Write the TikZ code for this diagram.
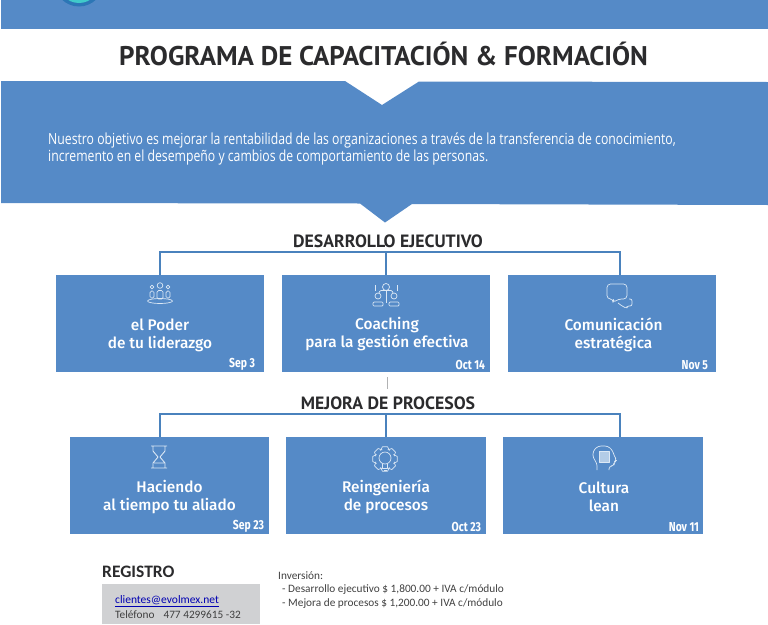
\documentclass[tikz,border=0pt]{standalone}
\usepackage{fontspec}
\setmainfont{Carlito}
\newfontfamily\headfont{PT Sans}
\newfontfamily\parafont[FakeStretch=0.80]{Open Sans}
\newfontfamily\boxfont{Fira Sans Medium}
\newfontfamily\datefont[FakeStretch=0.80]{Fira Sans}
\definecolor{evblue}{HTML}{558AC7}
\definecolor{evline}{HTML}{4A82BD}
\definecolor{evdark}{HTML}{2B2B2D}
\definecolor{evgray}{HTML}{D0D1D3}
\definecolor{evicon}{HTML}{DCE8F5}
\usetikzlibrary{positioning,calc}

\begin{document}
\begin{tikzpicture}[
  x=1pt, y=-1pt,
  course/.style={fill=evblue, inner sep=0pt, minimum height=97pt},
  coursetitle/.style={text=white, font=\boxfont\fontsize{15.4}{18}\selectfont, align=center, inner sep=0pt},
  coursedate/.style={text=white, font=\datefont\bfseries\fontsize{13}{15}\selectfont, inner sep=0pt},
  section/.style={text=evdark, font=\headfont\bfseries\fontsize{17.8}{20}\selectfont, inner sep=0pt},
  bus/.style={draw=evline, line width=1.6pt},
  icon/.style={draw=evicon, line width=0.7pt, line join=round},
  small/.style={text=black!75, font=\fontsize{11.3}{14}\selectfont, inner sep=0pt, anchor=west}
]
  \useasboundingbox (0,0) rectangle (768,624);

  % Top band and logo
  \fill[evblue] (1,0) rectangle (768,29);
  \begin{scope}
    \clip (0,0) rectangle (768,29);
    \fill[cyan!60!blue!85!black] (79,-18) circle (24.5);
    \fill[teal!55!cyan!75] (79,-18) circle (21);
  \end{scope}

  % Title
  \node[text=evdark, font=\headfont\bfseries\fontsize{27}{32}\selectfont, inner sep=0pt] (title) at (383.5,53.5) {PROGRAMA DE CAPACITACIÓN \& FORMACIÓN};

  % Objective band
  \fill[evblue] (1,81) -- (345,81) -- (382,105) -- (419,81.5) -- (768,82)
    -- (768,205) -- (412,204) -- (385,222.5) -- (360,203.5) -- (1,203) -- cycle;
  \node[text=white, font=\parafont\fontsize{15.3}{17.5}\selectfont, align=left, inner sep=0pt, anchor=west] (objective) at (48,149)
    {Nuestro objetivo es mejorar la rentabilidad de las organizaciones a través de la transferencia de conocimiento,\\
     incremento en el desempeño y cambios de comportamiento de las personas.};

  % Desarrollo ejecutivo
  \node[section] (dev) at (388,241) {DESARROLLO EJECUTIVO};
  \node[course, minimum width=208pt] (poder) at (160,323.5) {};
  \node[course, minimum width=208pt] (coaching) at (386,323.5) {};
  \node[course, minimum width=208pt] (comunica) at (612,323.5) {};
  \coordinate (devleft) at (160,252);
  \coordinate (devmid) at (386,252);
  \coordinate (devright) at (620,252);
  \draw[bus] (devleft |- poder.north) -- (devleft) -- (devright) -- (devright |- comunica.north);
  \draw[bus] (devmid) -- (coaching.north);

  \node[coursetitle] (podertxt) at ($(poder.center)+(0,11.5)$) {el Poder\\de tu liderazgo};
  \node[coursetitle] (coachingtxt) at ($(coaching.center)+(1,11)$) {Coaching\\para la gestión efectiva};
  \node[coursetitle] (comunicatxt) at ($(comunica.center)+(1.5,11.5)$) {Comunicación\\estratégica};
  \node[coursedate, anchor=south east] (poderdate) at ($(poder.south east)+(-9,-2)$) {Sep 3};
  \node[coursedate, anchor=south east] (coachingdate) at ($(coaching.south east)+(-5,-2)$) {Oct 14};
  \node[coursedate, anchor=south east] (comunicadate) at ($(comunica.south east)+(-8,-2)$) {Nov 5};

  % Separator
  \draw[evgray!85!black, line width=1pt] (387,377) -- (387,389);

  % Mejora de procesos
  \node[section] (mejora) at (388,403) {MEJORA DE PROCESOS};
  \node[course, minimum width=199pt] (tiempo) at (169.5,485.5) {};
  \node[course, minimum width=200pt] (reing) at (386,485.5) {};
  \node[course, minimum width=200pt] (lean) at (603,485.5) {};
  \coordinate (mejleft) at (160,414);
  \coordinate (mejmid) at (386,414);
  \coordinate (mejright) at (620,414);
  \draw[bus] (mejleft |- tiempo.north) -- (mejleft) -- (mejright) -- (mejright |- lean.north);
  \draw[bus] (mejmid) -- (reing.north);

  \node[coursetitle] (tiempotxt) at ($(tiempo.center)+(0,12)$) {Haciendo\\al tiempo tu aliado};
  \node[coursetitle] (reingtxt) at ($(reing.center)+(0,11.5)$) {Reingeniería\\de procesos};
  \node[coursetitle] (leantxt) at ($(lean.center)+(1,11.5)$) {Cultura\\lean};
  \node[coursedate, anchor=south east] (tiempodate) at ($(tiempo.south east)+(-5,-2)$) {Sep 23};
  \node[coursedate, anchor=south east] (reingdate) at ($(reing.south east)+(-5,-2)$) {Oct 23};
  \node[coursedate, anchor=south east] (leandate) at ($(lean.south east)+(-4,-2)$) {Nov 11};

  % Icons: people
  \draw[icon] (160,285.5) circle (2.8) (152,287) circle (1.8) (168,287) circle (1.8);
  \draw[icon, rounded corners=1.5pt] (157,299) rectangle (163,290.5) (150,298) rectangle (154,291) (166,298) rectangle (170,291);
  \draw[icon] (160,301) ellipse (12.5 and 2.5);

  % Icons: coach
  \draw[icon] (386,287) circle (3.5) (378,296) circle (3) (394,296) circle (3);
  \draw[icon, rounded corners=1pt] (379,293) -- (380,290.5) -- (392,290.5) -- (393,293);
  \draw[icon, rounded corners=1pt] (373,306) -- (373,302) -- (383,302) -- (383,306) -- cycle (389,306) -- (389,302) -- (399,302) -- (399,306) -- cycle;
  \draw[icon] (386,291) -- (386,303) (375,291) -- (375,285) (397,291) -- (397,285);

  % Icons: chat
  \draw[icon, rounded corners=3.5pt] (607,284) -- (627,284) -- (627,299) -- (618,299) -- (613,303) -- (613.5,299) -- (607,299) -- cycle;
  \draw[icon, rounded corners=2pt] (629,299) -- (632,299) -- (632,306) -- (627,306) -- (627,308.5) -- (622,306) -- (618,303);

  % Icons: hourglass
  \draw[icon, line width=0.9pt] (151,446) -- (167,446) (151,468) -- (167,468)
    (153,446) -- (153,451) -- (158,457) -- (153,463) -- (153,468)
    (165,446) -- (165,451) -- (160,457) -- (165,463) -- (165,468)
    (154,463) -- (164,463);

  % Icons: gear with bulb
  \begin{scope}[shift={(385,459)}]
    \foreach \a in {0,45,...,315}
      \draw[icon] (\a-28:9.5) -- (\a-12:12.5) -- (\a+12:12.5) -- (\a+28:9.5);
    \draw[icon] (0,-1) circle (6);
    \draw[icon] (-2.5,5) -- (-2.5,9) -- (2.5,9) -- (2.5,5) (-1.5,11.5) -- (1.5,11.5);
  \end{scope}

  % Icons: head with page
  \draw[icon, rounded corners=3pt] (597,470) -- (597,463) -- (593,458) -- (593,451) -- (598,446) -- (608,446) -- (613,451) -- (614,456) -- (617,460) -- (614,462) -- (614,466) -- (609,466) -- (609,470);
  \draw[icon, fill=evicon!70!evblue] (599,451) rectangle (609,462);

  % Registro
  \node[text=evdark, font=\fontsize{17.5}{20}\selectfont\bfseries, inner sep=0pt, anchor=west] (registro) at (102,572) {REGISTRO};
  \fill[evgray] (102,584) rectangle (260,624);
  \node[font=\fontsize{11.5}{14}\selectfont, text=blue!70!black, inner sep=0pt, anchor=west] (email) at (115,601) {\underline{clientes@evolmex.net}};
  \node[small] (phone) at (115,615) {Teléfono\hspace{0.8em}477 4299615 -32};

  % Inversion
  \node[small] (inv) at (278,575.5) {Inversión:};
  \node[small] (invdev) at (282,589.5) {- Desarrollo ejecutivo \$ 1,800.00 + IVA c/módulo};
  \node[small] (invmej) at (282,603.5) {- Mejora de procesos \$ 1,200.00 + IVA c/módulo};
\end{tikzpicture}
\end{document}
